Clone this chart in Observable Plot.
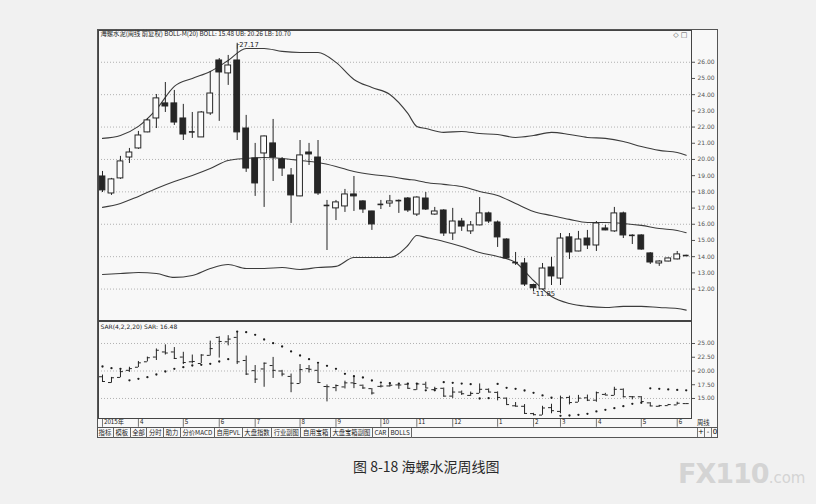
<!DOCTYPE html>
<html><head><meta charset="utf-8">
<script src="https://cdn.jsdelivr.net/npm/d3@7"></script>
<script src="https://cdn.jsdelivr.net/npm/@observablehq/plot@0.6"></script>
<style>
html,body{margin:0;padding:0;background:#f1f1f1;}
#root{position:relative;width:816px;height:504px;overflow:hidden;font-family:"Noto Sans CJK SC","DejaVu Sans",sans-serif;}
.abs{position:absolute;}
#frame{left:97px;top:29px;width:619px;height:407px;border:1px solid #555;background:#f8f8f8;}
#btns{left:97px;top:427px;width:620px;height:10px;display:flex;font-size:6.3px;line-height:10px;color:#222;border-top:1px solid #555;}
#btns span{border-right:1px solid #666;padding:0 1.6px;white-space:nowrap;}
#right{left:697px;top:418px;font-size:6.3px;color:#222;}
#pm{left:697px;top:428px;display:flex;font-size:7px;line-height:9px;font-family:"DejaVu Sans",sans-serif;}
#pm span{border-left:1px solid #777;width:6px;text-align:center;}
#caption{left:353px;top:457px;font-size:14px;line-height:18px;color:#2a2a2a;white-space:nowrap;}
#wm{left:678px;top:458px;color:#d4d4d4;font-family:"DejaVu Sans",sans-serif;font-weight:bold;white-space:nowrap;}
svg{position:absolute;left:0;overflow:visible;}
</style></head><body><div id="root">
<div id="frame" class="abs"></div>
</div>
<script>
// ---- candle data (weekly, 2015-03 .. 2016-06) ----
const open  = [18.95,17.90,18.83,20.12,20.68,21.67,22.53,23.46,23.46,22.53,21.67,21.36,22.84,26.11,25.31,26.11,21.91,20.06,20.37,20.99,20.00,19.01,17.72,20.43,20.12,17.18,16.98,17.10,17.84,17.41,16.79,17.20,17.28,17.47,17.59,16.60,17.59,16.60,16.85,15.43,16.17,15.56,15.93,16.67,16.11,15.06,13.67,13.58,12.25,11.98,13.33,12.65,15.19,14.32,15.12,14.69,15.74,15.56,16.67,15.33,15.31,14.20,13.58,13.70,13.83,14.07];
const high  = [19.26,18.83,20.19,20.68,21.73,22.53,24.01,24.75,24.26,23.40,22.90,22.96,25.43,26.23,26.42,27.17,22.72,20.99,21.45,22.47,20.12,19.44,21.17,20.99,21.17,17.47,17.47,18.15,18.95,17.45,16.80,17.47,17.78,17.50,17.65,17.70,17.96,17.04,16.90,16.98,16.36,16.17,17.65,16.75,16.20,15.10,14.26,13.89,12.30,13.58,13.95,15.43,15.43,15.56,15.62,16.17,15.93,17.04,16.75,15.35,15.35,14.25,13.75,13.92,14.32,14.09];
const low   = [17.96,17.78,18.77,19.75,20.62,21.65,21.91,22.90,22.10,21.17,21.30,21.36,22.72,22.35,24.57,21.17,19.20,17.72,17.04,18.64,18.95,16.05,17.70,19.63,17.78,14.38,16.23,16.73,16.79,16.67,15.62,16.91,17.04,16.67,16.73,16.48,16.85,16.55,15.25,15.00,15.56,15.37,15.90,16.05,14.57,13.85,13.46,12.16,11.85,11.95,12.22,12.22,13.83,14.30,14.44,14.32,15.60,15.50,15.12,14.75,14.40,13.52,13.40,13.68,13.80,14.05];
const close = [18.09,18.77,19.88,20.43,21.48,22.41,23.77,23.27,22.28,21.54,21.73,22.90,24.07,25.37,25.80,21.67,19.44,18.52,21.42,20.12,19.44,17.78,20.25,20.31,17.90,17.14,17.35,17.84,17.72,16.91,15.99,17.25,17.41,17.45,16.85,17.65,16.91,16.79,15.43,16.17,15.86,15.93,16.67,16.17,15.19,13.89,13.60,12.28,12.05,13.27,12.78,15.12,14.26,15.06,14.69,16.05,15.62,16.67,15.31,15.30,14.44,13.64,13.70,13.89,14.14,14.07];
// ---- Bollinger bands, read at these week indices ----
const bollIdx   = [0,2,4,6,8,10,12,14,16,18,20,22,24,26,28,30,32,34,35,36,38,40,42,44,46,48,50,52,54,56,58,60,62,64,65];
const bollUpper = [21.30,21.48,22.04,23.09,24.51,25.00,25.43,26.11,26.85,26.85,26.67,26.60,26.60,25.99,24.94,24.44,24.01,22.84,22.04,21.91,21.67,21.73,21.60,21.54,21.36,21.48,21.67,21.54,21.36,21.30,21.11,20.80,20.56,20.43,20.26];
const bollMid   = [17.04,17.28,17.72,18.21,18.64,19.01,19.44,19.94,20.06,20.12,20.06,19.94,19.81,19.57,19.26,19.07,18.95,18.77,18.70,18.58,18.46,18.33,18.02,17.78,17.28,16.79,16.54,16.30,16.11,16.11,16.05,15.93,15.74,15.62,15.48];
const bollLower = [12.90,12.96,13.02,12.96,12.72,12.84,13.27,13.52,13.27,13.27,13.33,13.21,13.33,13.40,13.95,13.95,13.95,14.69,15.31,15.19,14.94,14.63,14.26,14.01,13.64,12.53,11.54,11.11,10.93,10.86,10.93,10.93,10.86,10.80,10.70];
// ---- SAR values per week ----
const sarValues = [20.82,20.52,20.39,18.30,18.58,18.88,19.36,19.91,20.39,20.70,21.00,21.12,21.30,21.73,22.15,27.17,27.05,26.58,25.73,25.06,24.45,23.55,22.82,22.15,21.48,20.94,20.39,19.48,19.05,18.82,18.27,17.90,17.79,17.72,17.70,17.71,16.48,16.50,17.96,17.85,17.72,17.60,15.00,15.06,17.65,16.94,16.76,16.45,16.03,15.55,15.13,11.85,11.91,12.03,12.21,12.64,12.94,13.24,13.61,14.03,14.21,16.85,16.75,16.65,16.56,16.48];
// ---- axis ticks / labels ----
const mainTicks = [12,13,14,15,16,17,18,19,20,21,22,23,24,25,26];
const mainGrid  = [12,14,16,18,20,22,24,26];
const sarTicks  = [15,17.5,20,22.5,25];
const sarGrid   = [15,20,25];
const monthIdx    = [0,4,9,13,17,22,26,31,35,39,44,48,51,55,60,64];
const monthLabels = ["2015年","4","5","6","7","8","9","10","11","12","1","2","3","4","5","6"];
const mainTitle = "海螺水泥(周线 前复权) BOLL-M(20) BOLL: 15.48 UB: 20.26 LB: 10.70";
const sarTitle  = "SAR(4,2,2,20) SAR: 16.48";
const highMark = {i:15, p:27.17, t:"27.17"};
const lowMark  = {i:48, p:11.85, t:"11.85"};
const buttonLabels = ["指标","模板","全部","分时","助力","分价MACD","自用PVL","大盘指数","行业副图","自用宝箱","大盘宝箱副图","CAR","BOLLS"];
const caption = "图 8-18 海螺水泥周线图";

// ---- derived tables ----
const candles = open.map((o,i)=>({i, o, h:high[i], l:low[i], c:close[i]}));
const bodies = candles.filter(d=>Math.abs(d.o-d.c)>=0.08);
const dojis  = candles.filter(d=>Math.abs(d.o-d.c)<0.08);
const bands = bollIdx.map((i,k)=>({i, u:bollUpper[k], m:bollMid[k], l:bollLower[k]}));
const sarRows = sarValues.map((s,i)=>({i, s}));
const months = monthIdx.map((i,k)=>({i, t:monthLabels[k]}));

const xDomain = [-0.445, 65.59];
const mainY = [10.06, 27.96];
const sarY  = [11.36, 29.0];
const ink = "#262626";
const hw = 0.32;
const fmt = d=>d.toFixed(2);
const numFont = "DejaVu Sans, sans-serif";

const main = Plot.plot({
  width:816, height:321, marginLeft:98, marginRight:125, marginTop:30, marginBottom:1,
  x:{domain:xDomain, axis:null}, y:{domain:mainY, axis:null},
  style:{background:"transparent", fontFamily:numFont, color:"#444"},
  marks:[
    Plot.ruleY(mainGrid, {stroke:"#a0a0a0", strokeDasharray:"1,2", strokeWidth:0.8}),
    Plot.line(bands, {x:"i", y:"u", stroke:"#3c3c3c", strokeWidth:1.1, curve:"monotone-x"}),
    Plot.line(bands, {x:"i", y:"m", stroke:"#3c3c3c", strokeWidth:1.1, curve:"monotone-x"}),
    Plot.line(bands, {x:"i", y:"l", stroke:"#3c3c3c", strokeWidth:1.1, curve:"monotone-x"}),
    Plot.ruleX(candles, {x:"i", y1:"l", y2:"h", stroke:ink, strokeWidth:1}),
    Plot.rect(bodies, {x1:d=>d.i-hw, x2:d=>d.i+hw, y1:"o", y2:"c",
      fill:d=>d.c<d.o?ink:"#fbfbfb", stroke:ink, strokeWidth:1}),
    Plot.ruleY(dojis, {y:d=>(d.o+d.c)/2, x1:d=>d.i-hw, x2:d=>d.i+hw, stroke:ink, strokeWidth:1.6}),
    Plot.text([highMark], {x:"i", y:"p", text:d=>"┌"+d.t, textAnchor:"start", dx:-2, dy:1.5, fontSize:6.8, fill:"#222"}),
    Plot.text([lowMark], {x:"i", y:"p", text:d=>"└"+d.t, textAnchor:"start", dx:-2, dy:2, fontSize:6.8, fill:"#222"}),
    Plot.text([mainTitle], {frameAnchor:"top-left", dx:2, dy:1.5, lineAnchor:"top", textAnchor:"start", fontSize:6.3, fill:"#222", fontFamily:"Noto Sans CJK SC, sans-serif"}),
    Plot.text(["◇ □"], {frameAnchor:"top-right", dx:-4, dy:2, lineAnchor:"top", textAnchor:"end", fontSize:7, fill:"#555", fontFamily:"DejaVu Sans"}),
    Plot.axisY({anchor:"right", ticks:mainTicks, tickFormat:fmt, tickSize:3, tickPadding:3, fontSize:6, color:"#555"}),
    Plot.frame({stroke:"#444"})
  ]
});
main.style.top = "0px";
document.getElementById("root").appendChild(main);

const sar = Plot.plot({
  width:816, height:116, marginLeft:98, marginRight:125, marginTop:0, marginBottom:19,
  x:{domain:xDomain, axis:null}, y:{domain:sarY, axis:null},
  style:{background:"transparent", fontFamily:numFont, color:"#444"},
  marks:[
    Plot.ruleY(sarGrid, {stroke:"#a0a0a0", strokeDasharray:"1,2", strokeWidth:0.8}),
    Plot.ruleX(candles, {x:"i", y1:"l", y2:"h", stroke:ink, strokeWidth:1}),
    Plot.ruleY(candles, {y:"o", x1:d=>d.i-0.33, x2:"i", stroke:ink, strokeWidth:1}),
    Plot.ruleY(candles, {y:"c", x1:"i", x2:d=>d.i+0.33, stroke:ink, strokeWidth:1}),
    Plot.dot(sarRows, {x:"i", y:"s", r:1.15, fill:"#1e1e1e", stroke:null}),
    Plot.text([sarTitle], {frameAnchor:"top-left", dx:2, dy:3, lineAnchor:"top", textAnchor:"start", fontSize:6, fill:"#222"}),
    Plot.axisY({anchor:"right", ticks:sarTicks, tickFormat:fmt, tickSize:3, tickPadding:3, fontSize:6, color:"#555"}),
    Plot.ruleX(months, {x:"i", y1:sarY[0], y2:sarY[0]-1.6, stroke:"#555", strokeWidth:0.8}),
    Plot.text(months, {x:"i", text:"t", frameAnchor:"bottom", dy:5, dx:1.5, textAnchor:"start", fontSize:6.2, fill:"#222", fontFamily:"Noto Sans CJK SC, DejaVu Sans, sans-serif"}),
    Plot.frame({stroke:"#444"})
  ]
});
sar.style.top = "321px";
document.getElementById("root").appendChild(sar);

const root = document.getElementById("root");
const btns = document.createElement("div");
btns.id = "btns"; btns.className = "abs";
buttonLabels.forEach(t=>{const s=document.createElement("span"); s.textContent=t; btns.appendChild(s);});
root.appendChild(btns);
const right = document.createElement("div");
right.id="right"; right.className="abs"; right.textContent="周线"; root.appendChild(right);
const pm = document.createElement("div");
pm.id="pm"; pm.className="abs";
["+","-","0"].forEach(t=>{const s=document.createElement("span"); s.textContent=t; pm.appendChild(s);});
root.appendChild(pm);
const cap = document.createElement("div");
cap.id="caption"; cap.className="abs"; cap.textContent=caption; root.appendChild(cap);
const wm = document.createElement("div");
wm.id="wm"; wm.className="abs";
wm.innerHTML = '<span style="font-size:27px;letter-spacing:-1px">FX110</span><span style="font-size:15px;font-weight:normal">.com</span>';
root.appendChild(wm);
</script>
</body></html>
